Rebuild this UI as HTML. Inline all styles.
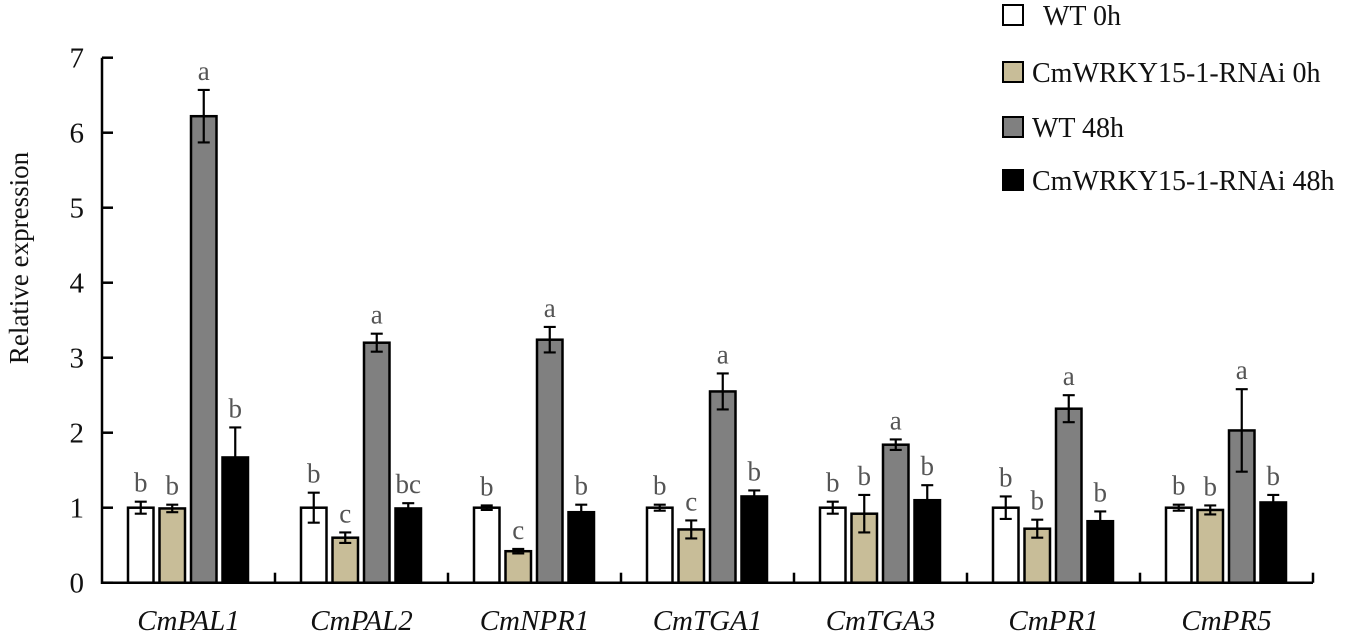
<!DOCTYPE html>
<html><head><meta charset="utf-8"><style>
html,body{margin:0;padding:0;background:#fff;}
svg{display:block;}
svg text{font-family:"Liberation Serif","Times New Roman",serif;}
</style></head><body>
<svg id="chart" width="1355" height="636"></svg>
<script>
const categories=["CmPAL1","CmPAL2","CmNPR1","CmTGA1","CmTGA3","CmPR1","CmPR5"];
const seriesNames=["WT 0h","CmWRKY15-1-RNAi 0h","WT 48h","CmWRKY15-1-RNAi 48h"];
const wt0=[1.0,1.0,1.0,1.0,1.0,1.0,1.0];
const rnai0=[0.99,0.6,0.42,0.71,0.92,0.72,0.97];
const wt48=[6.22,3.2,3.24,2.55,1.84,2.32,2.03];
const rnai48=[1.67,0.99,0.94,1.15,1.1,0.82,1.07];
const errWt0=[0.08,0.2,0.03,0.04,0.08,0.15,0.04];
const errRnai0=[0.05,0.07,0.03,0.12,0.25,0.12,0.06];
const errWt48=[0.35,0.12,0.17,0.24,0.07,0.18,0.55];
const errRnai48=[0.4,0.07,0.1,0.08,0.2,0.13,0.1];
const lblWt0=["b","b","b","b","b","b","b"];
const lblRnai0=["b","c","c","c","b","b","b"];
const lblWt48=["a","a","a","a","a","a","a"];
const lblRnai48=["b","bc","b","b","b","b","b"];
const yTicks=[0,1,2,3,4,5,6,7];

const NS="http://www.w3.org/2000/svg";
const svg=document.getElementById('chart');
function mk(t,a,txt){const e=document.createElementNS(NS,t);for(const k in a)e.setAttribute(k,a[k]);if(txt!==undefined){e.textContent=txt;e.setAttribute('font-family','Liberation Serif, serif');}svg.appendChild(e);return e;}
const x0=102,gw=173,y0=582.7,ppu=75;
const yS=v=>y0-v*ppu;
const series=[wt0,rnai0,wt48,rnai48];
const errs=[errWt0,errRnai0,errWt48,errRnai48];
const lbls=[lblWt0,lblRnai0,lblWt48,lblRnai48];
const fills=["#ffffff","#c8bd98","#808080","#000000"];
const bw=25.5,step=31.5,off=26;

yTicks.forEach(t=>{
  const y=yS(t);
  const l=mk('line',{x1:x0,x2:x0+11,y1:y,y2:y,stroke:'#000','stroke-width':2.5});
  
  
  const tx=mk('text',{x:84,y:y+10,'text-anchor':'end','font-size':29,fill:'#111'},String(t));
  
  
});
categories.forEach((c,i)=>{
  const gx=x0+i*gw;
  series.forEach((s,j)=>{
    const bx=gx+off+j*step, v=s[i], e=errs[j][i];
    const r=mk('rect',{x:bx,y:yS(v),width:bw,height:v*ppu,fill:fills[j],stroke:'#000','stroke-width':2.5});
    
    
    const cx=bx+bw/2;
    const g=mk('path',{d:`M${cx},${yS(v-e)}V${yS(v+e)}M${cx-6},${yS(v-e)}H${cx+6}M${cx-6},${yS(v+e)}H${cx+6}`,stroke:'#000','stroke-width':2.2,fill:'none'});
    
    
    const t=mk('text',{x:cx,y:yS(v+e)-10,'text-anchor':'middle','font-size':27,fill:'#555'},lbls[j][i]);
    
    
  });
  const xt=mk('line',{x1:gx+gw,x2:gx+gw,y1:y0,y2:y0-10,stroke:'#000','stroke-width':2.5});
  
  
  const cl=mk('text',{x:gx+gw/2,y:630,'text-anchor':'middle','font-size':29,'font-style':'italic',fill:'#111'},c);
  
  
});
const ax=mk('path',{d:`M${x0},${yS(7)}V${y0}H${x0+7*gw}`,stroke:'#000','stroke-width':2.5,fill:'none'});


const yt=mk('text',{x:0,y:0,transform:'translate(28,258) rotate(-90)','text-anchor':'middle','font-size':27,fill:'#111'},'Relative expression');


const ly=[15,72,127,180];
seriesNames.forEach((n,j)=>{
  const r=mk('rect',{x:1003,y:ly[j]-10,width:20,height:20,fill:fills[j],stroke:'#000','stroke-width':2});
  
  
  const t=mk('text',{x:j===0?1043:1032,y:ly[j]+10,'font-size':28,fill:'#111'},n);
  
  
});
</script>
</body></html>
